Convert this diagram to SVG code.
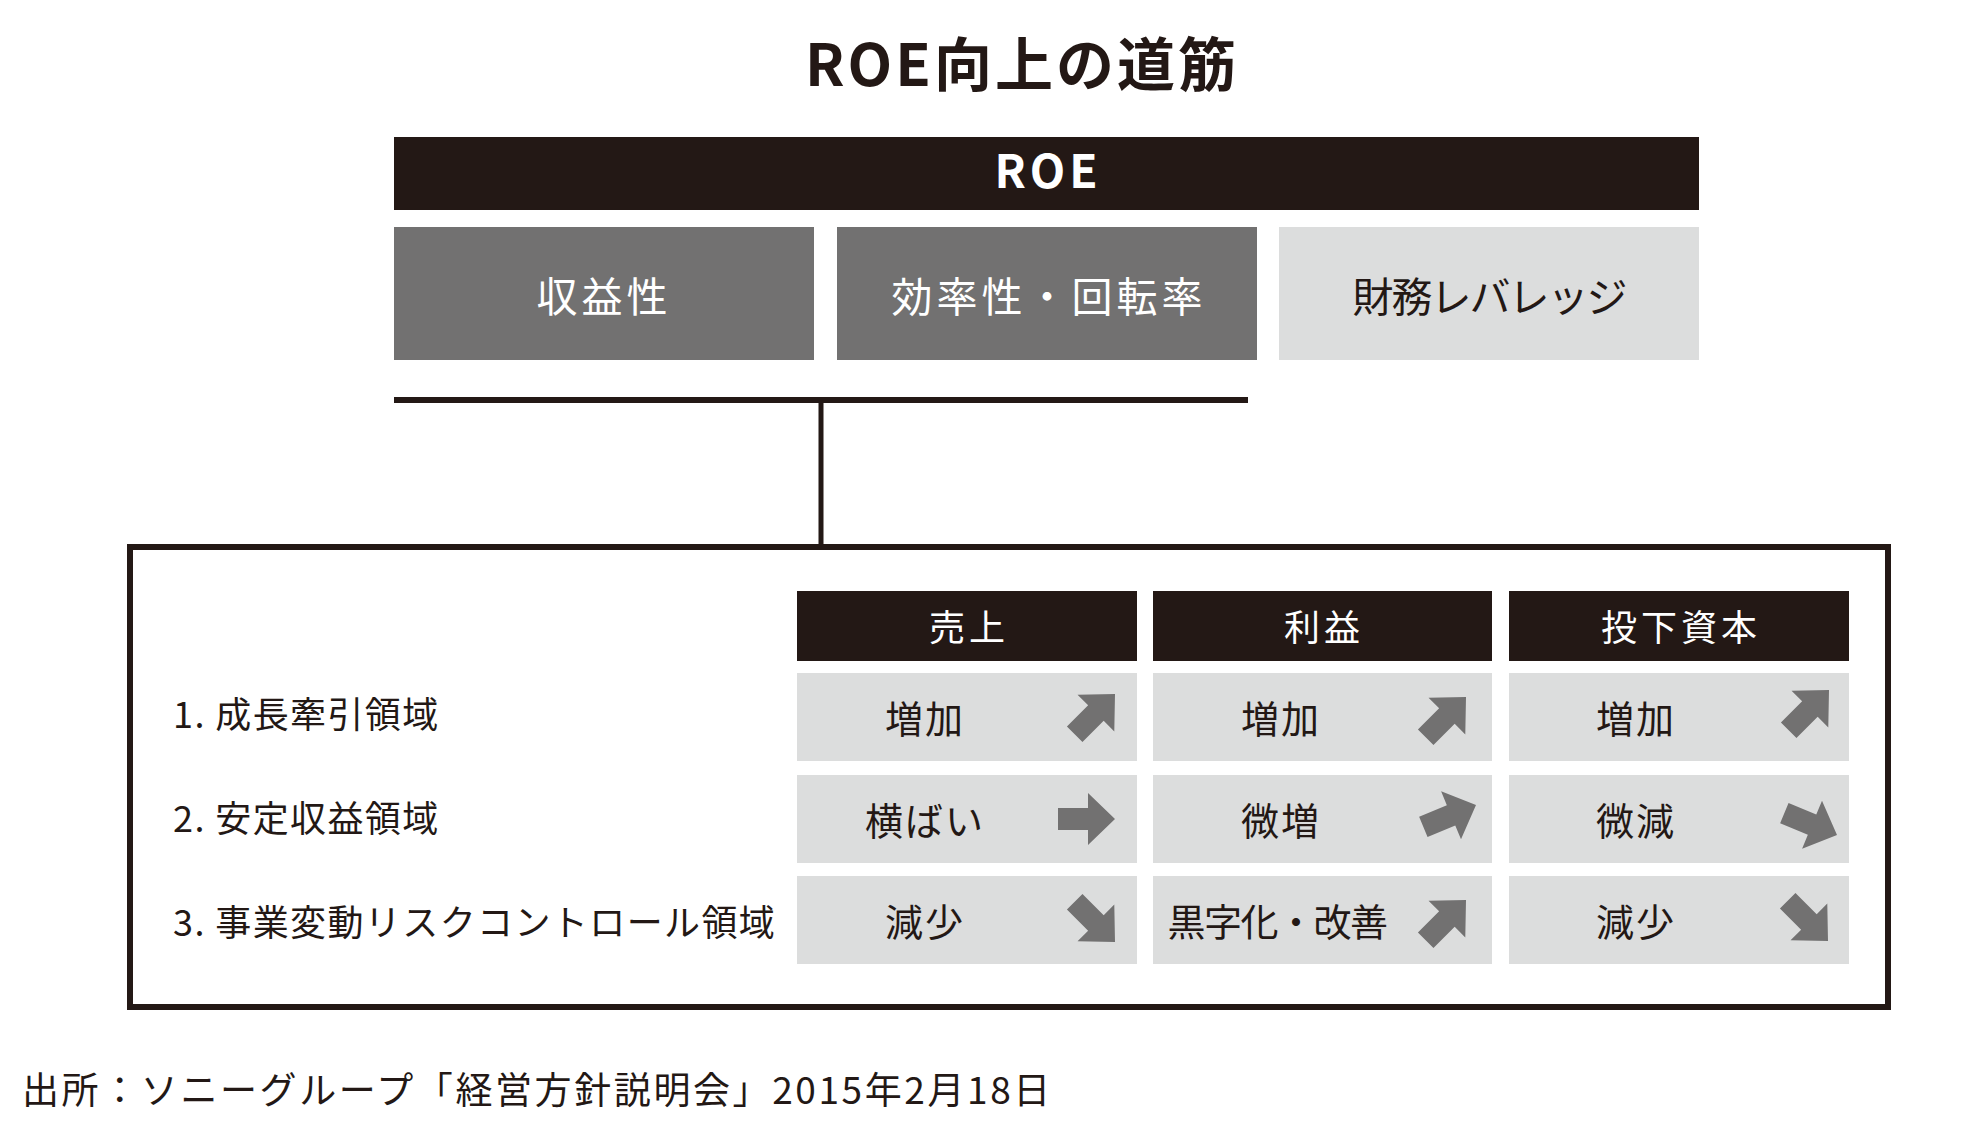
<svg xmlns="http://www.w3.org/2000/svg" width="1970" height="1134" viewBox="0 0 1970 1134">
<defs>
<style>
text{font-family:"Noto Sans CJK JP","Noto Sans",sans-serif;}
.dark{fill:#231815;}
.mid{fill:#727171;}
.light{fill:#dcdddd;}
.wt{fill:#ffffff;}
.bt{fill:#231815;}
.t41{font-size:41px;letter-spacing:4px;text-anchor:middle;}
.hd{font-size:36px;letter-spacing:4px;text-anchor:middle;fill:#ffffff;}
.cell{font-size:38px;letter-spacing:2px;text-anchor:middle;fill:#231815;}
.lbl{font-size:36px;letter-spacing:1.4px;fill:#231815;}
.line{stroke:#231815;fill:none;}
</style>
<path id="arr" d="M0,0 L-27,-26 L-27,-11 L-57,-11 L-57,11 L-27,11 L-27,26 Z" fill="#727171"/>
</defs>
<rect width="1970" height="1134" fill="#ffffff"/>

<g id="title">
<text x="1022" y="86" font-size="58" font-weight="700" letter-spacing="3" text-anchor="middle" class="bt">ROE向上の道筋</text>
</g>

<g id="roe">
<rect x="394" y="137" width="1305" height="73" class="dark"/>
<text x="1048" y="188" font-size="46" font-weight="700" letter-spacing="4" text-anchor="middle" class="wt">ROE</text>
</g>

<g id="profitability">
<rect x="394" y="227" width="420" height="133" class="mid"/>
<text x="604" y="312" class="t41 wt">収益性</text>
</g>
<g id="efficiency">
<rect x="837" y="227" width="420" height="133" class="mid"/>
<text x="1049" y="312" class="t41 wt">効率性・回転率</text>
</g>
<g id="leverage">
<rect x="1279" y="227" width="420" height="133" class="light"/>
<text x="1489" y="312" class="bt" font-size="41" letter-spacing="-2" text-anchor="middle">財務レバレッジ</text>
</g>

<g id="connectors">
<line x1="394" y1="400" x2="1248" y2="400" class="line" stroke-width="6"/>
<line x1="821" y1="403" x2="821" y2="545" class="line" stroke-width="5"/>
</g>

<g id="frame">
<rect x="130" y="547" width="1758" height="460" class="line" stroke-width="6"/>
</g>

<g id="header-sales">
<rect x="797" y="591" width="340" height="70" class="dark"/>
<text x="969" y="641" class="hd">売上</text>
</g>
<g id="header-profit">
<rect x="1153" y="591" width="339" height="70" class="dark"/>
<text x="1324" y="641" class="hd">利益</text>
</g>
<g id="header-capital">
<rect x="1509" y="591" width="340" height="70" class="dark"/>
<text x="1681" y="641" class="hd">投下資本</text>
</g>

<g id="row1-label"><text x="173" y="728" class="lbl">1. 成長牽引領域</text></g>
<g id="row2-label"><text x="173" y="832" class="lbl">2. 安定収益領域</text></g>
<g id="row3-label"><text x="173" y="936" class="lbl">3. 事業変動リスクコントロール領域</text></g>

<g id="r1c1">
<rect x="797" y="673" width="340" height="88" class="light"/>
<text x="925" y="733" class="cell">増加</text>
<use href="#arr" transform="translate(1115,694) rotate(-45)"/>
</g>
<g id="r1c2">
<rect x="1153" y="673" width="339" height="88" class="light"/>
<text x="1281" y="733" class="cell">増加</text>
<use href="#arr" transform="translate(1466,697) rotate(-45)"/>
</g>
<g id="r1c3">
<rect x="1509" y="673" width="340" height="88" class="light"/>
<text x="1636" y="733" class="cell">増加</text>
<use href="#arr" transform="translate(1829,690) rotate(-45)"/>
</g>

<g id="r2c1">
<rect x="797" y="775" width="340" height="88" class="light"/>
<text x="925" y="835" class="cell">横ばい</text>
<use href="#arr" transform="translate(1115,819)"/>
</g>
<g id="r2c2">
<rect x="1153" y="775" width="339" height="88" class="light"/>
<text x="1281" y="835" class="cell">微増</text>
<use href="#arr" transform="translate(1476,805) rotate(-22.5)"/>
</g>
<g id="r2c3">
<rect x="1509" y="775" width="340" height="88" class="light"/>
<text x="1636" y="835" class="cell">微減</text>
<use href="#arr" transform="translate(1837,835) rotate(22.5)"/>
</g>

<g id="r3c1">
<rect x="797" y="876" width="340" height="88" class="light"/>
<text x="925" y="936" class="cell">減少</text>
<use href="#arr" transform="translate(1115,942) rotate(45)"/>
</g>
<g id="r3c2">
<rect x="1153" y="876" width="339" height="88" class="light"/>
<text x="1277" y="936" class="cell" style="letter-spacing:-1.5px">黒字化・改善</text>
<use href="#arr" transform="translate(1466,900) rotate(-45)"/>
</g>
<g id="r3c3">
<rect x="1509" y="876" width="340" height="88" class="light"/>
<text x="1636" y="936" class="cell">減少</text>
<use href="#arr" transform="translate(1828,941) rotate(45)"/>
</g>

<g id="source">
<text x="22" y="1104" font-size="37" letter-spacing="2.6" class="bt">出所：ソニーグループ「経営方針説明会」2015年2月18日</text>
</g>
</svg>
